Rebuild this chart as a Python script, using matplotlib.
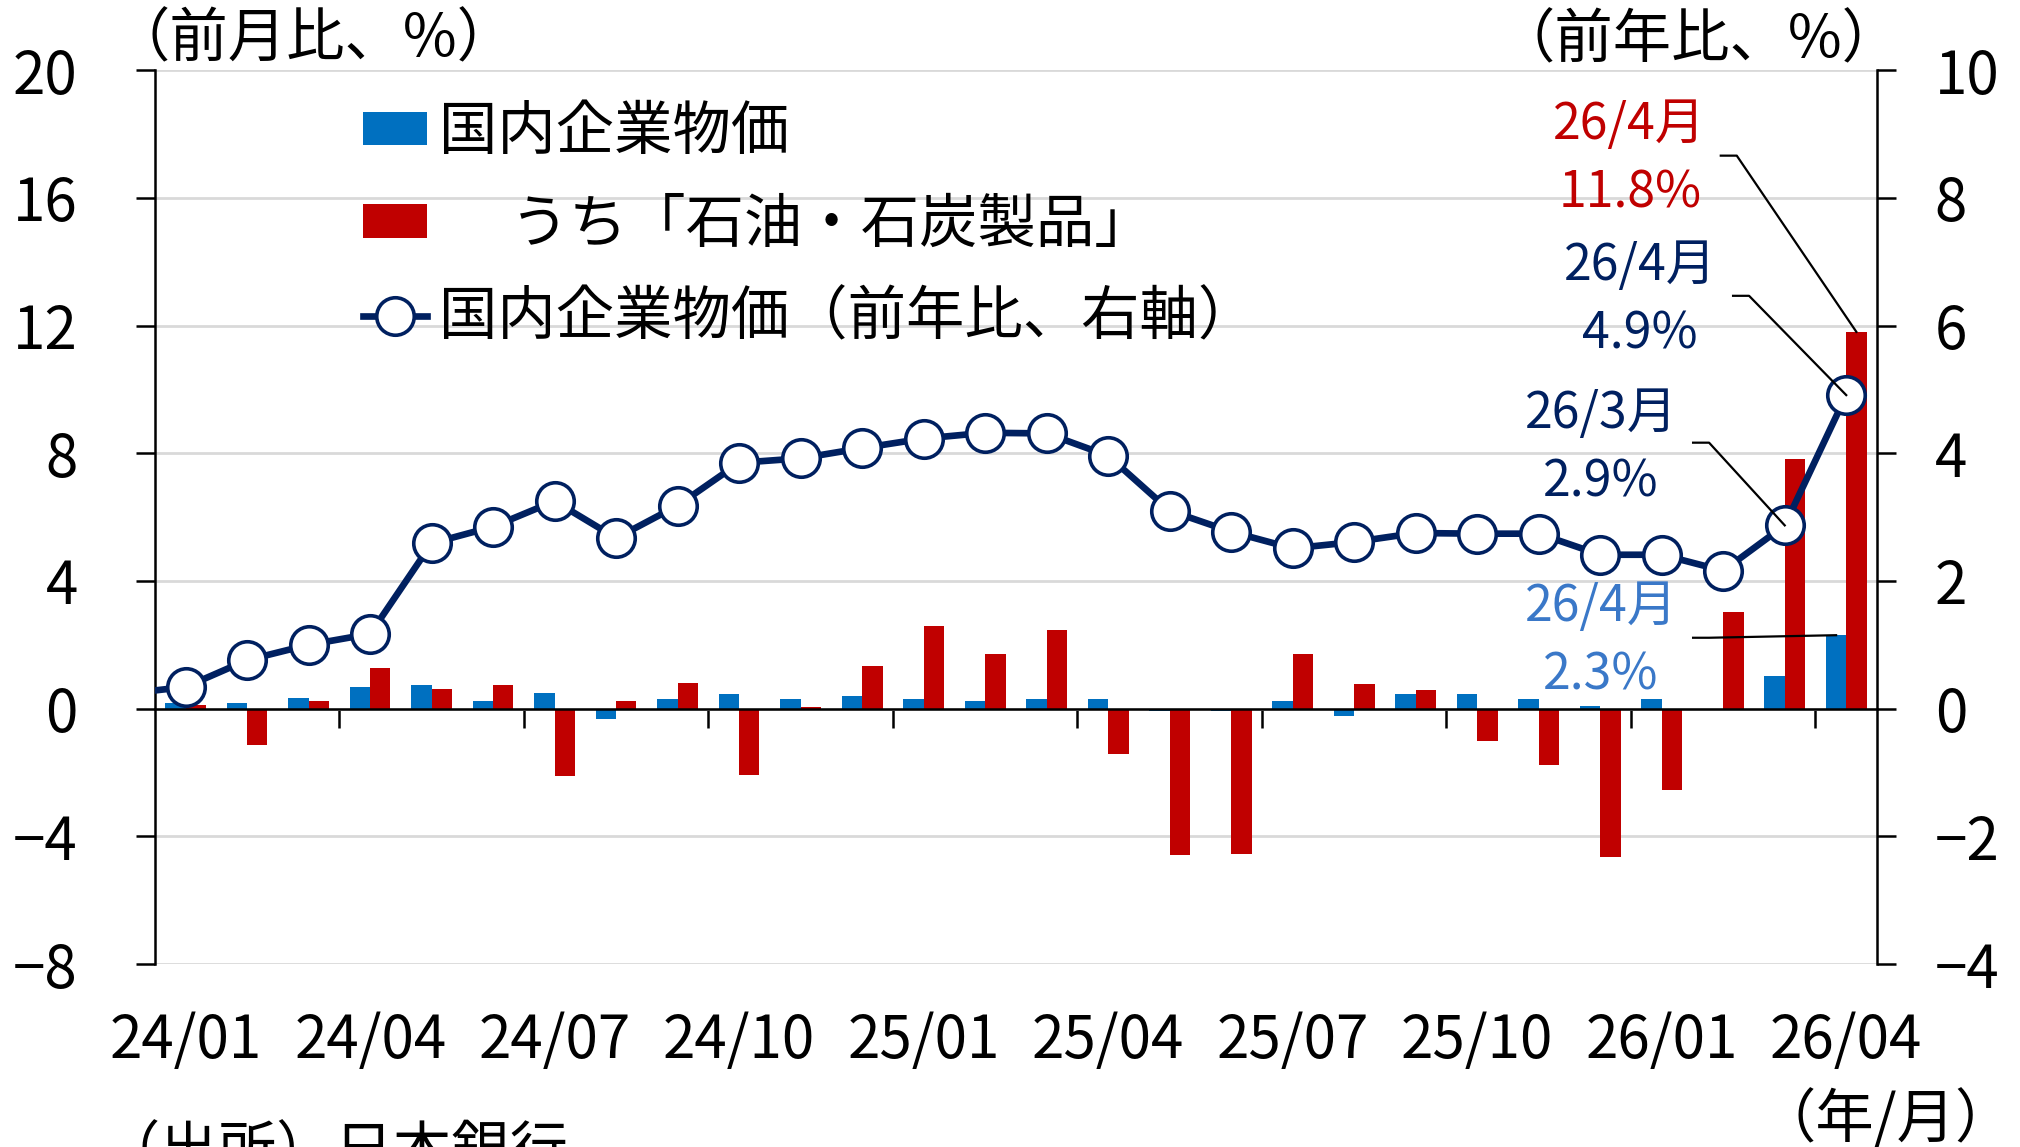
import matplotlib
matplotlib.use('Agg')
import matplotlib.pyplot as plt
import numpy as np

plt.rcParams['font.family'] = ['Noto Sans CJK JP', 'DejaVu Sans']
plt.rcParams['axes.unicode_minus'] = True

# データ（前月比、前年比）
months = ['24/01', '24/02', '24/03', '24/04', '24/05', '24/06', '24/07',
          '24/08', '24/09', '24/10', '24/11', '24/12', '25/01', '25/02',
          '25/03', '25/04', '25/05', '25/06', '25/07', '25/08', '25/09',
          '25/10', '25/11', '25/12', '26/01', '26/02', '26/03', '26/04']

cgpi_mom = [0.17, 0.17, 0.33, 0.67, 0.75, 0.24, 0.49, -0.34, 0.31, 0.47,
            0.31, 0.41, 0.31, 0.25, 0.31, 0.31, -0.08, -0.08, 0.23, -0.24,
            0.47, 0.47, 0.31, 0.07, 0.30, 0.0, 1.01, 2.30]

oil_mom = [0.10, -1.14, 0.25, 1.27, 0.63, 0.75, -2.12, 0.25, 0.81, -2.08,
           0.05, 1.35, 2.60, 1.72, 2.47, -1.43, -4.60, -4.56, 1.71, 0.77,
           0.57, -1.02, -1.75, -4.64, -2.54, 3.03, 7.81, 11.8]

yoy_prev = 0.23  # 23/12（図の左端で切れている）
cgpi_yoy = [0.34, 0.76, 1.00, 1.17, 2.59, 2.85, 3.25, 2.67, 3.18, 3.85,
            3.92, 4.08, 4.23, 4.32, 4.31, 3.96, 3.10, 2.77, 2.51, 2.61,
            2.75, 2.74, 2.74, 2.41, 2.41, 2.16, 2.87, 4.91]

navy = '#002060'
blue = '#0070C0'
red = '#C00000'
lblue = '#3A78C8'

x = np.arange(len(months))
w = 0.33

fig = plt.figure(figsize=(10.1, 5.735), dpi=200)
ax = fig.add_axes([0.0767, 0.1595, 0.8525, 0.7794])
ax2 = ax.twinx()

b1 = ax.bar(x - w / 2, cgpi_mom, w, color=blue, zorder=2, label='国内企業物価')
b2 = ax.bar(x + w / 2, oil_mom, w, color=red, zorder=2,
            label='　 うち「石油・石炭製品」')

xl = np.arange(-1, len(months))
ln, = ax2.plot(xl, [yoy_prev] + cgpi_yoy, color=navy, lw=2.4, marker='o',
               ms=13.5, mfc='white', mec=navy, mew=1.3, zorder=3,
               label='国内企業物価（前年比、右軸）')

ax.set_xlim(-0.5, len(months) - 0.5)
ax.set_ylim(-8, 20)
ax2.set_ylim(-4, 10)
ax.set_yticks(np.arange(-8, 21, 4))
ax2.set_yticks(np.arange(-4, 11, 2))

ax.set_axisbelow(True)
ax.yaxis.grid(True, color='#D9D9D9', lw=1.0)

for s in ['top', 'right']:
    ax.spines[s].set_visible(False)
for s in ['top', 'left', 'bottom']:
    ax2.spines[s].set_visible(False)
ax.spines['bottom'].set_position(('data', 0))
ax.spines['bottom'].set_zorder(2.5)
for a in (ax, ax2):
    for s in a.spines.values():
        s.set_linewidth(0.9)

ax.set_xticks(np.arange(2.5, len(months), 3))
ax.set_xticklabels([])
ax.tick_params(axis='x', direction='out', length=6.8, width=0.9)
ax.tick_params(axis='y', direction='out', length=6.8, width=0.9,
               labelsize=21, pad=21)
ax2.tick_params(axis='y', direction='out', length=6.8, width=0.9,
                labelsize=21, pad=14)

sec = ax.secondary_xaxis('bottom')
sec.set_xticks(x[::3], months[::3])
sec.tick_params(length=0, pad=17, labelsize=21)
sec.spines['bottom'].set_visible(False)

ax2.legend(handles=[b1, b2, ln], loc='upper left',
           bbox_to_anchor=(0.121, 0.964), frameon=False, fontsize=21,
           handlelength=1.1, handleheight=0.5, handletextpad=0.2,
           labelspacing=0.54, borderpad=0, borderaxespad=0)

# 単位など
fig.text(0.055, 1 - 40 / 1147, '（前月比、%）', fontsize=21, ha='left', va='center')
fig.text(0.941, 1 - 41 / 1147, '（前年比、%）', fontsize=21, ha='right', va='center')
fig.text(0.997, 1 - 1120 / 1147, '（年/月）', fontsize=21, ha='right', va='center')
fig.text(0.05, 1 - 1122 / 1147, '（出所）日本銀行', fontsize=21, ha='left', va='top')

# 注記
def note(tx, ty, text, color, sx, sy, ex, ey):
    ax2.text(tx, ty, text, color=color, fontsize=18, ha='center', va='center',
             linespacing=1.42, transform=ax.transData, zorder=5)
    ax2.plot([sx, sx + 0.26, ex], [sy, sy, ey], color='black', lw=0.8,
             transform=ax.transData, zorder=6, clip_on=False)

n = len(months) - 1
note(23.48, 17.2, '26/4月\n11.8%', red, 24.96, 17.32, x[n] + w / 2, oil_mom[n])
note(23.65, 12.8, '26/4月\n4.9%', navy, 25.16, 12.93, x[n], cgpi_yoy[n] * 2)
note(23.01, 8.15, '26/3月\n2.9%', navy, 24.51, 8.33, x[n - 1], cgpi_yoy[n - 1] * 2)
note(23.01, 2.1, '26/4月\n2.3%', lblue, 24.51, 2.22, x[n] - w / 2, cgpi_mom[n])

fig.savefig('out.png', dpi=200)
